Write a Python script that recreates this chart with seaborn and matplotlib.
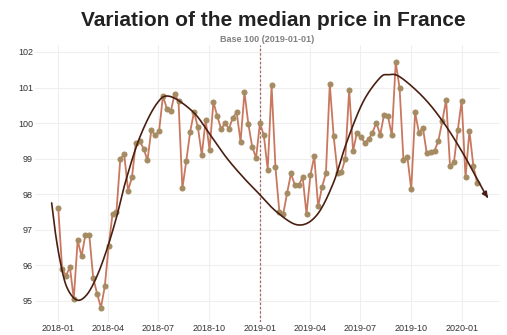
import numpy as np
import pandas as pd
import matplotlib
matplotlib.use("Agg")
import matplotlib.pyplot as plt
import matplotlib.dates as mdates
import seaborn as sns

# Weekly median price index, base 100 on 2019-01-01
start_date = "2018-01-02"
price_index = [
    97.6, 95.9, 95.7, 95.95, 95.05, 96.7, 96.25, 96.85, 96.85, 95.65,
    95.2, 94.8, 95.4, 96.55, 97.45, 97.5, 99.0, 99.12, 98.1, 98.47,
    99.44, 99.49, 99.28, 98.95, 99.81, 99.65, 99.78, 100.77, 100.4, 100.33,
    100.81, 100.61, 98.16, 98.93, 99.75, 100.31, 99.88, 99.1, 100.08, 99.25,
    100.59, 100.19, 99.83, 100.0, 99.84, 100.15, 100.3, 99.47, 100.87, 99.98,
    99.33, 99.02, 100.0, 99.65, 98.69, 101.06, 98.75, 97.5, 97.44, 98.03,
    98.58, 98.25, 98.25, 98.48, 97.44, 98.53, 99.06, 97.65, 98.2, 98.58,
    101.1, 99.63, 98.6, 98.62, 99.0, 100.94, 99.21, 99.73, 99.61, 99.45,
    99.54, 99.73, 100.01, 99.67, 100.24, 100.19, 99.65, 101.71, 100.98, 98.95,
    99.05, 98.13, 100.3, 99.72, 99.87, 99.15, 99.18, 99.22, 99.5, 100.05,
    100.66, 98.78, 98.89, 99.8, 100.63, 98.47, 99.78, 98.8, 98.31,
]

# Trend guide: position in weeks from the first observation, and level
trend_weeks = [-1.7, -0.85, 0.44, 2.16, 4.74, 7.32, 9.9, 12.47, 15.05, 17.45,
               21.06, 25.36, 28.79, 34.79, 39.1, 43.4, 47.7, 51.13, 56.29,
               61.86, 66.6, 70.88, 74.33, 78.61, 82.91, 85.05, 88.07, 94.07,
               99.23, 104.38, 109.54, 110.75]
trend_level = [97.75, 96.99, 96.14, 95.39, 95.02, 95.16, 95.67, 96.42, 97.36,
               98.39, 99.61, 100.54, 100.75, 100.31, 99.68, 99.02, 98.47, 98.08,
               97.5, 97.13, 97.4, 98.3, 99.45, 100.6, 101.27, 101.36, 101.3,
               100.73, 100.03, 99.14, 98.11, 97.9]

base_date = "2019-01-01"
y_ticks = [95, 96, 97, 98, 99, 100, 101, 102]
title = "Variation of the median price in France"
subtitle = "Base 100 (2019-01-01)"


def catmull_rom(xs, ys, per_seg=20):
    """Smooth curve passing through every (xs, ys) knot."""
    P = np.column_stack([xs, ys]).astype(float)
    P = np.vstack([2 * P[0] - P[1], P, 2 * P[-1] - P[-2]])
    out = []
    s = np.linspace(0, 1, per_seg, endpoint=False)[:, None]
    for i in range(1, len(P) - 2):
        p0, p1, p2, p3 = P[i - 1], P[i], P[i + 1], P[i + 2]
        seg = 0.5 * ((2 * p1) + (-p0 + p2) * s
                     + (2 * p0 - 5 * p1 + 4 * p2 - p3) * s ** 2
                     + (-p0 + 3 * p1 - 3 * p2 + p3) * s ** 3)
        out.append(seg)
    out.append(P[-2][None, :])
    c = np.vstack(out)
    return c[:, 0], c[:, 1]


dates = pd.date_range(start_date, periods=len(price_index), freq="7D")
df = pd.DataFrame({"date": dates, "index": price_index})

sns.set_theme(style="whitegrid")
plt.rcParams["font.family"] = ["Liberation Sans", "DejaVu Sans"]

fig = plt.figure(figsize=(5.07, 3.35), dpi=100)
ax = fig.add_axes([0.069, 0.039, 0.917, 0.827])

# Weekly series
sns.lineplot(data=df, x="date", y="index", ax=ax, color="#c8785e", linewidth=1.3,
             marker="o", markersize=3.6, markerfacecolor="#a58b62",
             markeredgecolor="#a58b62", zorder=3)

# Trend guide with an arrow head at its end
tw, tl = catmull_rom(trend_weeks, trend_level)
t_dates = dates[0] + pd.to_timedelta(tw * 7, unit="D")
ax.plot(t_dates[:-4], tl[:-4], color="#4a1f12", linewidth=1.2, zorder=4)
ax.annotate("", xy=(t_dates[-1], tl[-1]), xytext=(t_dates[-5], tl[-5]),
            arrowprops=dict(arrowstyle="-|>", color="#4a1f12", lw=1.2,
                            mutation_scale=8, shrinkA=0, shrinkB=0), zorder=4)

# Reference date
ax.axvline(pd.Timestamp(base_date), color="#a06a66", linestyle=(0, (2, 1.5)),
           linewidth=0.9, zorder=2)

ax.set_xlim(pd.Timestamp("2017-11-21"), pd.Timestamp("2020-03-09"))
ax.set_ylim(94.4, 102.2)
ax.set_yticks(y_ticks)
ax.xaxis.set_major_locator(mdates.MonthLocator(bymonth=[1, 4, 7, 10]))
ax.xaxis.set_major_formatter(mdates.DateFormatter("%Y-%m"))
ax.set_xlabel("")
ax.set_ylabel("")
ax.grid(color="#efefef", linewidth=0.8)
for s in ax.spines.values():
    s.set_visible(False)
ax.tick_params(axis="both", labelsize=6.5, colors="#333333", pad=1.5, length=0)

ax.set_title(subtitle, fontsize=6.5, color="#808080", fontweight="bold", pad=2)
fig.suptitle(title, fontsize=15, fontweight="bold", color="#222222",
             x=0.54, y=0.968)

fig.savefig("out.png", dpi=100, facecolor="white")
